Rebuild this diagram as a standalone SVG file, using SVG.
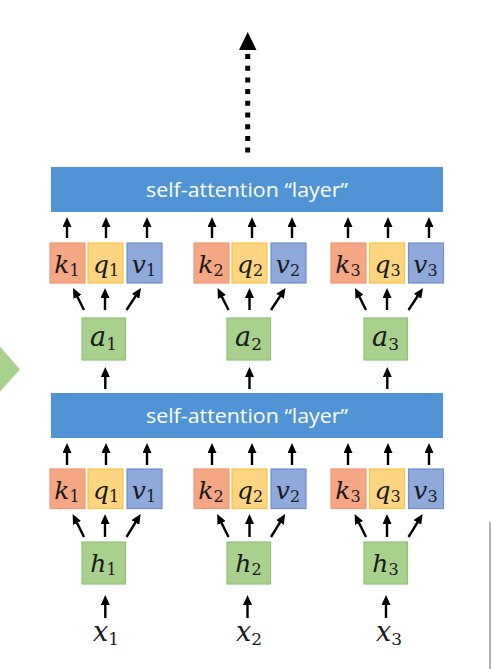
<svg xmlns="http://www.w3.org/2000/svg" width="491" height="669" viewBox="0 0 491 669">
<defs>
<marker id="ah" viewBox="0 0 10 9" refX="4" refY="4.5" markerWidth="10" markerHeight="9" markerUnits="userSpaceOnUse" orient="auto"><path d="M0,0 L10,4.5 L0,9 z" fill="#000"/></marker>
<style>
.bar{fill:#5094d6;}
.k{fill:#f5a685;stroke:#f09670;stroke-width:1.2;}
.q{fill:#fdd47f;stroke:#f9c440;stroke-width:1.2;}
.v{fill:#8eaadb;stroke:#6f8fcc;stroke-width:1.2;}
.g{fill:#a9d18e;stroke:#90c274;stroke-width:1.2;}
.ar{stroke:#000;stroke-width:2.4;fill:none;marker-end:url(#ah);}
</style>
</defs>
<rect width="491" height="669" fill="#fff"/>
<polygon points="0,346.7 20,369.3 0,391.7" fill="#a9d18e"/>
<line x1="490" y1="522" x2="490" y2="669" stroke="#b4b4b4" stroke-width="2"/>

<g id="out-arrow">
<line x1="247.7" y1="54" x2="247.7" y2="154" stroke="#000" stroke-width="5" stroke-dasharray="5 6.7"/>
<polygon points="247.7,32 239,50 256.5,50" fill="#000"/>
</g>

<g id="layer2"><rect class="bar" x="51" y="167" width="392" height="45"/><text x="247" y="197" font-family="Open Sans, sans-serif" font-size="20" fill="#fff" text-anchor="middle" textLength="202" lengthAdjust="spacingAndGlyphs">self-attention “layer”</text></g>
<g id="layer1"><rect class="bar" x="51" y="393" width="392" height="45"/><text x="247" y="423" font-family="Open Sans, sans-serif" font-size="20" fill="#fff" text-anchor="middle" textLength="202" lengthAdjust="spacingAndGlyphs">self-attention “layer”</text></g>

<g font-family="DejaVu Serif, serif" font-style="italic" font-size="25" fill="#1a1a1a" text-anchor="middle">
<g id="k1b"><rect class="k" x="50" y="243" width="35" height="40"/><text x="67" y="272.7">k<tspan font-style="normal" font-size="16" dy="3">1</tspan></text></g>
<g id="q1b"><rect class="q" x="88" y="243" width="35" height="40"/><text x="106" y="272.7">q<tspan font-style="normal" font-size="16" dy="3">1</tspan></text></g>
<g id="v1b"><rect class="v" x="127" y="243" width="35" height="40"/><text x="144" y="272.7">v<tspan font-style="normal" font-size="16" dy="3">1</tspan></text></g>
<g id="k2b"><rect class="k" x="194" y="243" width="35" height="40"/><text x="211" y="272.7">k<tspan font-style="normal" font-size="16" dy="3">2</tspan></text></g>
<g id="q2b"><rect class="q" x="232" y="243" width="35" height="40"/><text x="250" y="272.7">q<tspan font-style="normal" font-size="16" dy="3">2</tspan></text></g>
<g id="v2b"><rect class="v" x="271" y="243" width="35" height="40"/><text x="288" y="272.7">v<tspan font-style="normal" font-size="16" dy="3">2</tspan></text></g>
<g id="k3b"><rect class="k" x="331" y="243" width="35" height="40"/><text x="348" y="272.7">k<tspan font-style="normal" font-size="16" dy="3">3</tspan></text></g>
<g id="q3b"><rect class="q" x="369.5" y="243" width="35" height="40"/><text x="387.5" y="272.7">q<tspan font-style="normal" font-size="16" dy="3">3</tspan></text></g>
<g id="v3b"><rect class="v" x="408.5" y="243" width="35" height="40"/><text x="425.5" y="272.7">v<tspan font-style="normal" font-size="16" dy="3">3</tspan></text></g>

<g id="a1"><rect class="g" x="82" y="318" width="43.5" height="42"/><text x="103.5" y="346" font-size="27">a<tspan font-style="normal" font-size="17" dy="4">1</tspan></text></g>
<g id="a2"><rect class="g" x="227" y="318" width="43.5" height="42"/><text x="248.5" y="346" font-size="27">a<tspan font-style="normal" font-size="17" dy="4">2</tspan></text></g>
<g id="a3"><rect class="g" x="364" y="318" width="43.5" height="42"/><text x="385.5" y="346" font-size="27">a<tspan font-style="normal" font-size="17" dy="4">3</tspan></text></g>

<g id="k1a"><rect class="k" x="50" y="469" width="35" height="39.5"/><text x="67" y="498.5">k<tspan font-style="normal" font-size="16" dy="3">1</tspan></text></g>
<g id="q1a"><rect class="q" x="88" y="469" width="35" height="39.5"/><text x="106" y="498.5">q<tspan font-style="normal" font-size="16" dy="3">1</tspan></text></g>
<g id="v1a"><rect class="v" x="127" y="469" width="35" height="39.5"/><text x="144" y="498.5">v<tspan font-style="normal" font-size="16" dy="3">1</tspan></text></g>
<g id="k2a"><rect class="k" x="194" y="469" width="35" height="39.5"/><text x="211" y="498.5">k<tspan font-style="normal" font-size="16" dy="3">2</tspan></text></g>
<g id="q2a"><rect class="q" x="232" y="469" width="35" height="39.5"/><text x="250" y="498.5">q<tspan font-style="normal" font-size="16" dy="3">2</tspan></text></g>
<g id="v2a"><rect class="v" x="271" y="469" width="35" height="39.5"/><text x="288" y="498.5">v<tspan font-style="normal" font-size="16" dy="3">2</tspan></text></g>
<g id="k3a"><rect class="k" x="331" y="469" width="35" height="39.5"/><text x="348" y="498.5">k<tspan font-style="normal" font-size="16" dy="3">3</tspan></text></g>
<g id="q3a"><rect class="q" x="369.5" y="469" width="35" height="39.5"/><text x="387.5" y="498.5">q<tspan font-style="normal" font-size="16" dy="3">3</tspan></text></g>
<g id="v3a"><rect class="v" x="408.5" y="469" width="35" height="39.5"/><text x="425.5" y="498.5">v<tspan font-style="normal" font-size="16" dy="3">3</tspan></text></g>

<g id="h1"><rect class="g" x="82" y="542" width="43.5" height="42"/><text x="103.5" y="572.3">h<tspan font-style="normal" font-size="16" dy="3">1</tspan></text></g>
<g id="h2"><rect class="g" x="227" y="542" width="43.5" height="42"/><text x="248.5" y="572.3">h<tspan font-style="normal" font-size="16" dy="3">2</tspan></text></g>
<g id="h3"><rect class="g" x="364" y="542" width="43.5" height="42"/><text x="385.5" y="572.3">h<tspan font-style="normal" font-size="16" dy="3">3</tspan></text></g>

<g id="x1"><text x="106" y="641" font-size="27">x<tspan font-style="normal" font-size="17" dy="3.5">1</tspan></text></g>
<g id="x2"><text x="249" y="641" font-size="27">x<tspan font-style="normal" font-size="17" dy="3.5">2</tspan></text></g>
<g id="x3"><text x="389" y="641" font-size="27">x<tspan font-style="normal" font-size="17" dy="3.5">3</tspan></text></g>
</g>

<g id="connectors">
<line class="ar" x1="67" y1="238" x2="67" y2="223"/>
<line class="ar" x1="106" y1="238" x2="106" y2="223"/>
<line class="ar" x1="147" y1="238" x2="147" y2="223"/>
<line class="ar" x1="212" y1="238" x2="212" y2="223"/>
<line class="ar" x1="252" y1="238" x2="252" y2="223"/>
<line class="ar" x1="292" y1="238" x2="292" y2="223"/>
<line class="ar" x1="348" y1="238" x2="348" y2="223"/>
<line class="ar" x1="388" y1="238" x2="388" y2="223"/>
<line class="ar" x1="429" y1="238" x2="429" y2="223"/>
<line class="ar" x1="84" y1="310" x2="75.7" y2="293.4"/>
<line class="ar" x1="105" y1="310" x2="105" y2="294"/>
<line class="ar" x1="126.5" y1="310" x2="137.7" y2="293"/>
<line class="ar" x1="228.5" y1="310" x2="220.2" y2="293.4"/>
<line class="ar" x1="249.5" y1="310" x2="249.5" y2="294"/>
<line class="ar" x1="271" y1="310" x2="282.2" y2="293"/>
<line class="ar" x1="366" y1="310" x2="357.7" y2="293.4"/>
<line class="ar" x1="387" y1="310" x2="387" y2="294"/>
<line class="ar" x1="408.5" y1="310" x2="419.7" y2="293"/>
<line class="ar" x1="105.3" y1="389" x2="105.3" y2="373"/>
<line class="ar" x1="249.5" y1="389" x2="249.5" y2="373"/>
<line class="ar" x1="387.3" y1="389" x2="387.3" y2="373"/>
<line class="ar" x1="67" y1="465" x2="67" y2="449"/>
<line class="ar" x1="106" y1="465" x2="106" y2="449"/>
<line class="ar" x1="147" y1="465" x2="147" y2="449"/>
<line class="ar" x1="212" y1="465" x2="212" y2="449"/>
<line class="ar" x1="252" y1="465" x2="252" y2="449"/>
<line class="ar" x1="292" y1="465" x2="292" y2="449"/>
<line class="ar" x1="348" y1="465" x2="348" y2="449"/>
<line class="ar" x1="388" y1="465" x2="388" y2="449"/>
<line class="ar" x1="429" y1="465" x2="429" y2="449"/>
<line class="ar" x1="84" y1="537" x2="75.3" y2="519.4"/>
<line class="ar" x1="105" y1="537" x2="105" y2="520"/>
<line class="ar" x1="126.5" y1="537" x2="137.5" y2="519.1"/>
<line class="ar" x1="228.5" y1="537" x2="219.8" y2="519.4"/>
<line class="ar" x1="249.5" y1="537" x2="249.5" y2="520"/>
<line class="ar" x1="271" y1="537" x2="282" y2="519.1"/>
<line class="ar" x1="366" y1="537" x2="357.3" y2="519.4"/>
<line class="ar" x1="387" y1="537" x2="387" y2="520"/>
<line class="ar" x1="408.5" y1="537" x2="419.5" y2="519.1"/>
<line class="ar" x1="105.3" y1="618" x2="105.3" y2="601"/>
<line class="ar" x1="247.5" y1="618" x2="247.5" y2="601"/>
<line class="ar" x1="386" y1="618" x2="386" y2="601"/>
</g>
</svg>
